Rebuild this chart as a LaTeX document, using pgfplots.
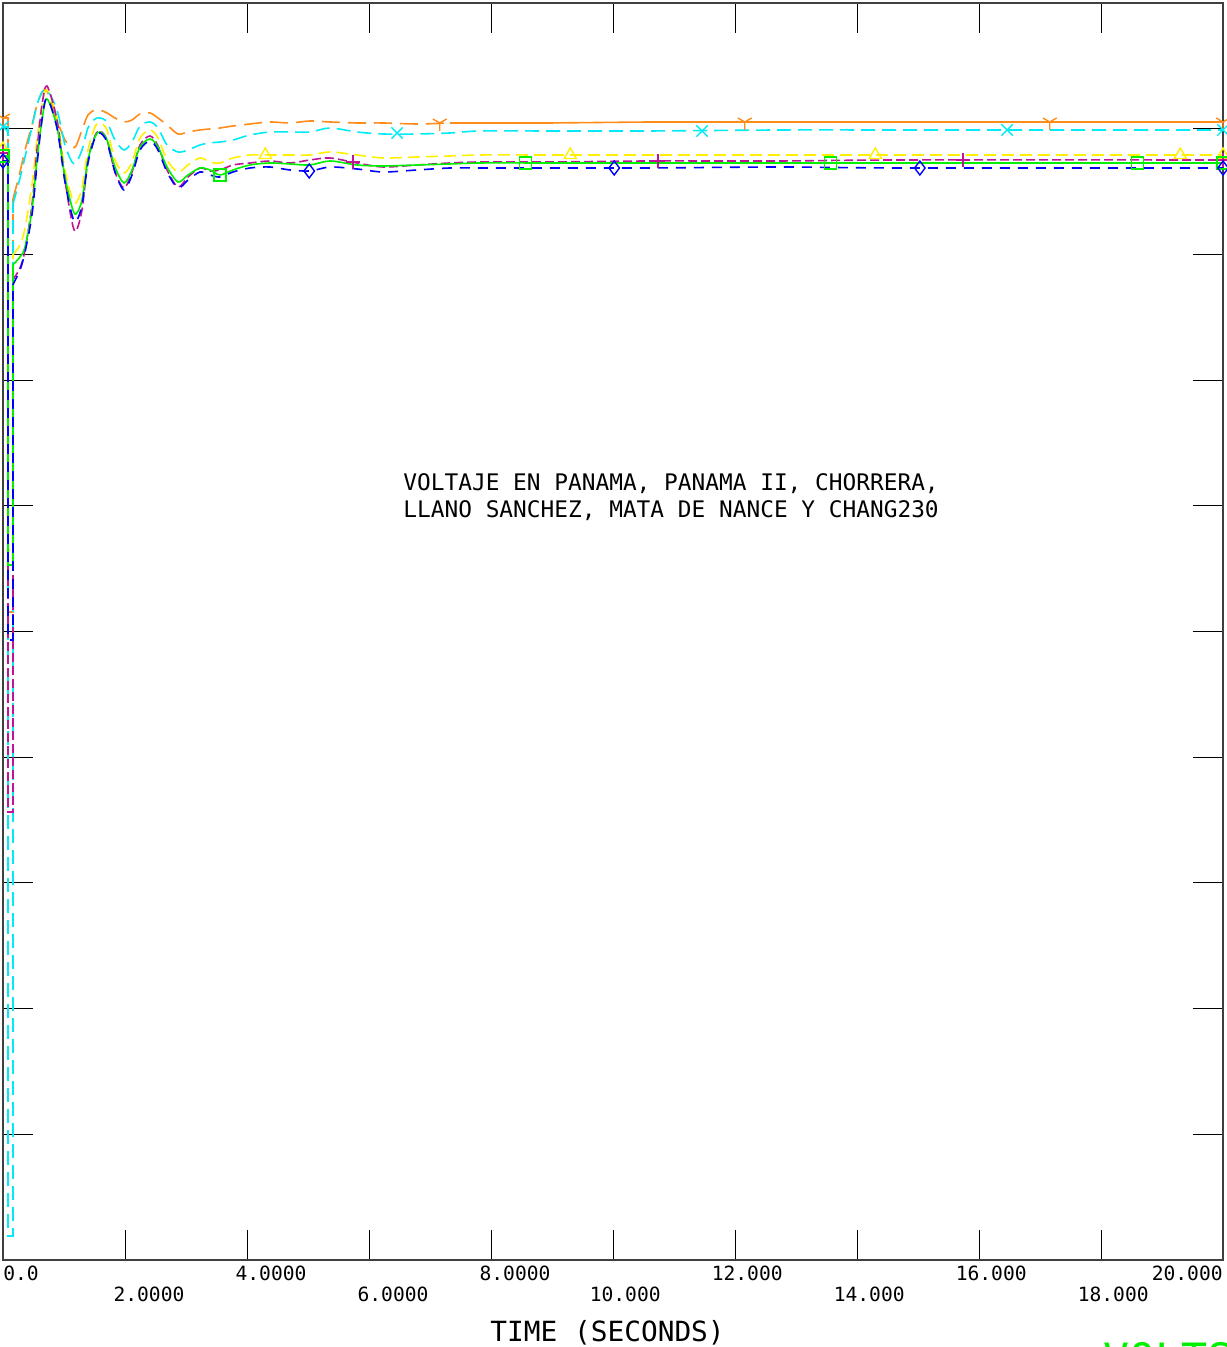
\documentclass[border=0pt]{standalone}
\usepackage{pgfplots}
\pgfplotsset{compat=1.18}
\usepackage{fontspec}
\newfontfamily\mono{DejaVu Sans Mono}
\usetikzlibrary{plotmarks}
\definecolor{cOr}{RGB}{255,140,26}
\definecolor{cCy}{RGB}{0,235,245}
\definecolor{cYe}{RGB}{255,240,0}
\definecolor{cMa}{RGB}{190,20,150}
\definecolor{cGr}{RGB}{0,240,0}
\definecolor{cBl}{RGB}{0,0,255}
\begin{document}
\begin{tikzpicture}
\begin{axis}[
  name=ax,
  scale only axis,
  width=610pt, height=628.5pt,
  xmin=0, xmax=20, ymin=0, ymax=1.257,
  xtick={2,4,...,18},
  ytick={0.1257,0.2514,0.3771,0.5028,0.6285,0.7542,0.8799,1.0056,1.1313},
  xticklabels={}, yticklabels={},
  tick align=inside, major tick length=15pt,
  xtick pos=both, ytick pos=both,
  every tick/.style={black, line width=0.5pt},
  axis line style={black!75, line width=1pt},
  every axis plot/.append style={line width=0.8pt},
]
% ORANGE (Y markers)
\addplot[cOr, dash pattern=on 9pt off 4pt] coordinates {
(0,1.142)(0.08,1.142)(0.08,0.648)(0.16,0.648)(0.16,1.060)};
\addplot[cOr, dash pattern=on 9pt off 4pt, smooth, tension=0.5] coordinates {
(0.16,1.060)(0.279,1.088)(0.361,1.110)(0.475,1.135)(0.557,1.155)(0.639,1.167)(0.721,1.169)(0.885,1.140)(1.016,1.120)(1.131,1.113)(1.197,1.114)
(1.295,1.130)(1.393,1.145)(1.508,1.150)(1.590,1.150)(1.705,1.147)(1.836,1.142)(1.984,1.138)(2.115,1.140)(2.246,1.146)(2.410,1.147)
(2.541,1.142)(2.689,1.135)(2.869,1.126)(3.033,1.128)(3.230,1.130)(3.393,1.131)(3.557,1.132)(3.770,1.134)(4.049,1.136)(4.377,1.138)
(4.705,1.137)(5.033,1.139)(5.361,1.138)(5.803,1.137)(6.230,1.137)(6.787,1.136)(7.328,1.137)};
\addplot[cOr] coordinates {
(7.328,1.137)(7.820,1.137)(8.967,1.137)(10.607,1.138)(12.738,1.138)(14.705,1.138)(20,1.138)};
% CYAN (x markers)
\addplot[cCy, dash pattern=on 7pt off 3.5pt] coordinates {
(0,1.133)(0.08,1.133)(0.08,0.024)(0.16,0.024)(0.16,1.055)};
\addplot[cCy, dash pattern=on 7pt off 3.5pt, smooth, tension=0.5] coordinates {
(0.16,1.055)(0.279,1.082)(0.361,1.103)(0.475,1.133)(0.557,1.155)(0.639,1.168)(0.721,1.170)(0.885,1.150)(1.016,1.115)(1.131,1.098)(1.197,1.097)
(1.295,1.110)(1.393,1.132)(1.508,1.141)(1.590,1.142)(1.705,1.138)(1.836,1.120)(1.984,1.110)(2.115,1.118)(2.246,1.134)(2.410,1.138)
(2.541,1.132)(2.689,1.115)(2.869,1.108)(3.033,1.110)(3.230,1.115)(3.393,1.117)(3.557,1.118)(3.770,1.120)(4.049,1.125)(4.377,1.128)
(4.705,1.128)(5.033,1.128)(5.361,1.132)(5.803,1.128)(6.230,1.126)(6.787,1.126)(7.328,1.127)(7.820,1.129)(8.967,1.129)(10.607,1.129)
(12.738,1.130)(14.705,1.130)(20,1.130)};
% YELLOW (triangles)
\addplot[cYe, dash pattern=on 6pt off 3pt] coordinates {
(0,1.111)(0.08,1.111)(0.08,0.710)(0.16,0.710)(0.16,1.005)};
\addplot[cYe, dash pattern=on 6pt off 3pt, smooth, tension=0.5] coordinates {
(0.16,1.005)(0.279,1.015)(0.361,1.032)(0.475,1.075)(0.557,1.120)(0.639,1.155)(0.721,1.170)(0.885,1.142)(1.016,1.090)(1.131,1.062)(1.197,1.057)
(1.295,1.072)(1.393,1.110)(1.508,1.133)(1.590,1.137)(1.705,1.130)(1.836,1.100)(1.984,1.087)(2.115,1.098)(2.246,1.122)(2.410,1.130)
(2.541,1.122)(2.689,1.100)(2.869,1.088)(3.033,1.095)(3.230,1.102)(3.393,1.098)(3.557,1.097)(3.770,1.102)(4.049,1.105)(4.377,1.105)
(4.705,1.105)(5.033,1.105)(5.361,1.108)(5.803,1.105)(6.230,1.102)(6.787,1.103)(7.328,1.104)(7.820,1.105)(8.967,1.105)(10.607,1.105)
(12.738,1.105)(14.705,1.105)(20,1.105)};
% MAGENTA (+ markers)
\addplot[cMa, dash pattern=on 4.5pt off 2pt] coordinates {
(0,1.107)(0.08,1.107)(0.08,0.448)(0.16,0.448)(0.16,0.980)};
\addplot[cMa, dash pattern=on 4.5pt off 2pt, smooth, tension=0.5] coordinates {
(0.16,0.980)(0.279,0.992)(0.361,1.010)(0.475,1.055)(0.557,1.110)(0.639,1.155)(0.721,1.174)(0.885,1.140)(1.016,1.080)(1.131,1.038)(1.197,1.029)
(1.295,1.050)(1.393,1.100)(1.508,1.124)(1.590,1.129)(1.705,1.120)(1.836,1.088)(1.984,1.072)(2.115,1.088)(2.246,1.115)(2.410,1.124)
(2.541,1.114)(2.689,1.090)(2.869,1.073)(3.033,1.083)(3.230,1.092)(3.393,1.089)(3.557,1.090)(3.770,1.095)(4.049,1.097)(4.377,1.099)
(4.705,1.097)(5.033,1.100)(5.361,1.102)(5.803,1.097)(6.230,1.093)(6.787,1.095)(7.328,1.097)(7.820,1.098)(8.967,1.098)(10.607,1.099)
(12.738,1.099)(14.705,1.100)(20,1.100)};
% GREEN (squares)
\addplot[cGr] coordinates {
(0,1.104)(0.08,1.104)(0.08,0.695)(0.16,0.695)(0.16,0.995)};
\addplot[cGr, smooth, tension=0.5] coordinates {
(0.16,0.995)(0.279,1.003)(0.361,1.013)(0.475,1.050)(0.557,1.100)(0.639,1.140)(0.721,1.161)(0.885,1.133)(1.016,1.083)(1.131,1.053)(1.197,1.046)
(1.295,1.060)(1.393,1.100)(1.508,1.123)(1.590,1.128)(1.705,1.120)(1.836,1.093)(1.984,1.077)(2.115,1.090)(2.246,1.113)(2.410,1.121)
(2.541,1.113)(2.689,1.093)(2.869,1.078)(3.033,1.085)(3.230,1.092)(3.393,1.090)(3.557,1.085)(3.770,1.090)(4.049,1.095)(4.377,1.097)
(4.705,1.096)(5.033,1.095)(5.361,1.099)(5.803,1.095)(6.230,1.094)(6.787,1.095)(7.328,1.096)(7.820,1.097)(8.967,1.097)(10.607,1.097)
(12.738,1.097)(14.705,1.097)(20,1.097)};
% BLUE (diamonds)
\addplot[cBl, dash pattern=on 5pt off 4pt] coordinates {
(0,1.099)(0.08,1.099)(0.08,0.620)(0.16,0.620)(0.16,0.975)};
\addplot[cBl, dash pattern=on 5pt off 4pt, smooth, tension=0.5] coordinates {
(0.16,0.975)(0.279,0.990)(0.361,1.008)(0.475,1.045)(0.557,1.095)(0.639,1.140)(0.721,1.162)(0.885,1.132)(1.016,1.078)(1.131,1.045)(1.197,1.038)
(1.295,1.055)(1.393,1.097)(1.508,1.122)(1.590,1.127)(1.705,1.118)(1.836,1.088)(1.984,1.070)(2.115,1.085)(2.246,1.110)(2.410,1.119)
(2.541,1.110)(2.689,1.088)(2.869,1.072)(3.033,1.080)(3.230,1.088)(3.393,1.085)(3.557,1.083)(3.770,1.088)(4.049,1.092)(4.377,1.093)
(4.705,1.090)(5.033,1.089)(5.361,1.093)(5.803,1.091)(6.230,1.088)(6.787,1.090)(7.328,1.092)(7.820,1.092)(8.967,1.092)(10.607,1.092)
(12.738,1.093)(14.705,1.092)(20,1.092)};
% markers
\addplot[cOr, only marks, mark=Mercedes star flipped, mark size=4pt, line width=0.7pt] coordinates {(0,1.142)(7.16,1.137)(12.16,1.138)(17.16,1.138)(20,1.138)};
\addplot[cCy, only marks, mark=x, mark size=4pt, line width=0.7pt] coordinates {(0,1.133)(6.46,1.127)(11.46,1.129)(16.46,1.130)(20,1.130)};
\addplot[cYe, only marks, mark=triangle, mark size=3.5pt, line width=0.7pt] coordinates {(0,1.111)(4.30,1.105)(9.30,1.105)(14.30,1.105)(19.30,1.105)(20,1.105)};
\addplot[cMa, only marks, mark=+, mark size=3.5pt, line width=0.7pt] coordinates {(0,1.107)(5.74,1.098)(10.74,1.099)(15.74,1.100)(20,1.100)};
\addplot[cGr, only marks, mark=square, mark size=3pt, line width=0.7pt] coordinates {(0,1.104)(3.56,1.085)(8.57,1.097)(13.57,1.097)(18.60,1.097)(20,1.097)};
\addplot[cBl, only marks, mark=diamond, mark size=3.5pt, line width=0.7pt] coordinates {(0,1.099)(5.02,1.089)(10.02,1.092)(15.03,1.092)(20,1.092)};
\end{axis}
% tick labels
\begin{scope}[every node/.style={inner sep=0pt, font=\mono\fontsize{9.8}{11}\selectfont}]
\node[anchor=base west] at ([yshift=-10.5pt]ax.south west) {0.0};
\node[anchor=base west] at ([xshift=61pt,yshift=-21pt]ax.south west) {\llap{2}.0000};
\node[anchor=base west] at ([xshift=122pt,yshift=-10.5pt]ax.south west) {\llap{4}.0000};
\node[anchor=base west] at ([xshift=183pt,yshift=-21pt]ax.south west) {\llap{6}.0000};
\node[anchor=base west] at ([xshift=244pt,yshift=-10.5pt]ax.south west) {\llap{8}.0000};
\node[anchor=base west] at ([xshift=305pt,yshift=-21pt]ax.south west) {\llap{10}.000};
\node[anchor=base west] at ([xshift=366pt,yshift=-10.5pt]ax.south west) {\llap{12}.000};
\node[anchor=base west] at ([xshift=427pt,yshift=-21pt]ax.south west) {\llap{14}.000};
\node[anchor=base west] at ([xshift=488pt,yshift=-10.5pt]ax.south west) {\llap{16}.000};
\node[anchor=base west] at ([xshift=549pt,yshift=-21pt]ax.south west) {\llap{18}.000};
\node[anchor=base east] at ([yshift=-10.5pt]ax.south east) {20.000};
\end{scope}
% title inside plot
\begin{scope}[every node/.style={inner sep=0pt, font=\mono\fontsize{11.4}{13}\selectfont}]
\node[anchor=base west] at ([xshift=200pt,yshift=384.5pt]ax.south west) {VOLTAJE EN PANAMA, PANAMA II, CHORRERA,};
\node[anchor=base west] at ([xshift=200pt,yshift=371pt]ax.south west) {LLANO SANCHEZ, MATA DE NANCE Y CHANG230};
\end{scope}
\node[inner sep=0pt, anchor=base west, font=\mono\fontsize{13.9}{15}\selectfont] at ([xshift=243.5pt,yshift=-41pt]ax.south west) {TIME (SECONDS)};
\node[inner sep=0pt, anchor=base west, text=cGr, font=\mono\fontsize{21.6}{24}\selectfont] at ([xshift=550pt,yshift=-57pt]ax.south west) {VOLTS};
\pgfresetboundingbox
\path[use as bounding box] ([xshift=-1.5pt,yshift=-43.5pt]ax.south west) rectangle ([xshift=1.5pt,yshift=1.5pt]ax.north east);
\end{tikzpicture}
\end{document}
